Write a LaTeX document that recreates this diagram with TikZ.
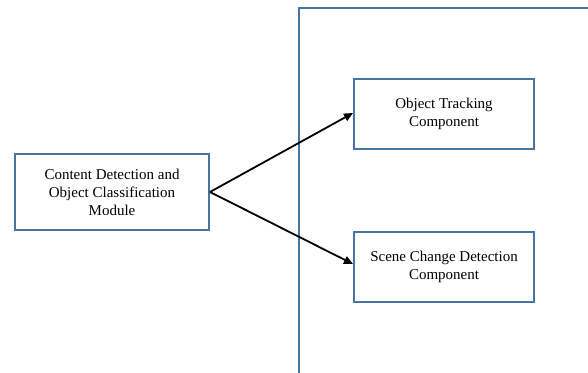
\documentclass[tikz,border=0pt]{standalone}
\usepackage{fontspec}
\setmainfont{Liberation Serif}
\usetikzlibrary{arrows.meta}
\definecolor{frameblue}{RGB}{72,116,164}
\begin{document}
\begin{tikzpicture}[x=1pt,y=-1pt,
  box/.style={draw=frameblue,line width=2pt,fill=white,align=center,
    font=\fontsize{15}{18}\selectfont,inner sep=0pt,anchor=north west},
  link/.style={line width=1.8pt,-{Triangle[length=9pt,width=8pt]}}]
\useasboundingbox (0,0) rectangle (588,372);
% frame of the right-hand region
\draw[frameblue,line width=2pt] (299,380) -- (299,8) -- (600,8);
% blocks
\node[box,minimum width=194pt,minimum height=76pt] (cd) at (14,153)
  {Content Detection and\\Object Classification\\Module};
\node[box,minimum width=180pt,minimum height=70pt] (ot) at (353,78)
  {Object Tracking\\Component};
\node[box,minimum width=180pt,minimum height=70pt] (sc) at (353,231)
  {Scene Change Detection\\Component};
% connectors
\coordinate (src) at (cd.east);
\draw[link] (src) -- ([yshift=-35pt]ot.north west);
\draw[link] (src) -- ([yshift=-33pt]sc.north west);
\end{tikzpicture}
\end{document}
